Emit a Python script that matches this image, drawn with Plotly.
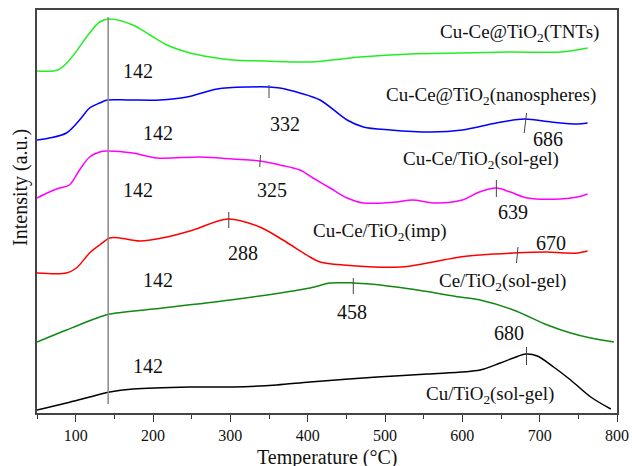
import plotly.graph_objects as go

FONT = "Liberation Serif"

# ---- data (temperature in °C, intensity in a.u., stacked with offsets) ----
tnts_T = [50, 77, 92, 118, 131, 144, 174, 196, 218, 248, 274, 303, 345, 403, 468, 533, 597, 662, 727, 762]
tnts_I = [342, 343, 353, 380, 391, 394, 388, 378, 368, 360, 356, 353, 352, 351, 356, 359, 360, 361, 361, 365]

nano_T = [50, 66, 88, 105, 118, 131, 141, 170, 209, 244, 283, 325, 350, 364, 390, 416, 451, 472, 507, 559, 600, 644, 680, 715, 749, 762]
nano_I = [273, 275, 280, 293, 305, 310, 313, 313, 313, 316, 324, 326, 326, 325, 320, 313, 293, 286, 283, 281, 283, 290, 294, 291, 289, 290]

solgel_T = [50, 66, 79, 92, 105, 118, 131, 140, 174, 205, 261, 303, 338, 364, 390, 407, 429, 451, 472, 514, 535, 566, 600, 622, 644, 662, 684, 727, 749, 762]
solgel_I = [215, 221, 225, 228, 243, 256, 261, 262, 260, 255, 256, 254, 252, 248, 243, 235, 225, 215, 210, 211, 213, 210, 213, 221, 225, 221, 215, 214, 216, 219]

imp_T = [50, 88, 101, 118, 131, 144, 157, 183, 218, 252, 297, 338, 368, 403, 416, 446, 520, 555, 597, 623, 666, 710, 731, 749, 762]
imp_I = [140, 140, 145, 160, 168, 175, 175, 172, 176, 183, 194, 186, 173, 156, 151, 148, 146, 150, 156, 158, 160, 161, 160, 160, 162]

ce_T = [50, 88, 131, 144, 200, 300, 403, 429, 459, 481, 533, 597, 623, 666, 710, 740, 766, 796]
ce_I = [71, 83, 96, 99, 104, 113, 125, 130, 130, 129, 124, 116, 113, 103, 88, 80, 75, 71]

cu_T = [50, 88, 118, 144, 174, 248, 303, 360, 403, 490, 555, 623, 649, 666, 682, 697, 718, 740, 766, 792]
cu_I = [3, 10, 16, 21, 24, 26, 26, 28, 31, 36, 39, 43, 50, 55, 59, 57, 46, 33, 16, 4]

names = ["Cu-Ce@TiO<sub>2</sub>(TNTs)", "Cu-Ce@TiO<sub>2</sub>(nanospheres)",
         "Cu-Ce/TiO<sub>2</sub>(sol-gel)", "Cu-Ce/TiO<sub>2</sub>(imp)",
         "Ce/TiO<sub>2</sub>(sol-gel)", "Cu/TiO<sub>2</sub>(sol-gel)"]
colors = ["#22ee22", "#0000ff", "#ff00ff", "#ff0000", "#118811", "#000000"]
series_T = [tnts_T, nano_T, solgel_T, imp_T, ce_T, cu_T]
series_I = [tnts_I, nano_I, solgel_I, imp_I, ce_I, cu_I]

# name label positions (T, I, anchor)
name_T = [779, 776, 727, 404, 736, 721]
name_I = [380, 317, 253, 181, 131, 18]
name_anchor = ["right", "right", "right", "left", "right", "right"]

# peak labels and their positions
peak_text = ["142", "142", "332", "686", "142", "325", "639", "142", "288", "670", "458", "142", "680"]
peak_lab_T = [180, 206, 371, 711, 180, 354, 666, 207, 316, 715, 457, 193, 660]
peak_lab_I = [342, 280, 289, 274, 223, 223, 201, 133, 160, 170, 101, 47, 80]

# tick marks on curves at the peaks
mark_T0 = [350, 683, 339, 644, 298, 672, 459, 683]
mark_T1 = [350, 680, 338, 644, 298, 670, 459, 683]
mark_I0 = [328, 300, 258, 233, 201, 166, 135, 66]
mark_I1 = [315, 280, 246, 216, 185, 150, 119, 48]

ref_T = 142
x_ticks = [100, 200, 300, 400, 500, 600, 700, 800]

fig = go.Figure()
for T, I, c in zip(series_T, series_I, colors):
    fig.add_trace(go.Scatter(x=T, y=I, mode="lines",
                             line=dict(color=c, width=1.5, shape="spline", smoothing=0.9),
                             hoverinfo="skip", showlegend=False))

fig.add_shape(type="line", x0=ref_T, x1=ref_T, y0=9, y1=396,
              line=dict(color="#8a8a8a", width=1.5))

for a0, a1, b0, b1 in zip(mark_T0, mark_T1, mark_I0, mark_I1):
    fig.add_shape(type="line", x0=a0, x1=a1, y0=b0, y1=b1,
                  line=dict(color="#444444", width=1))

for t, x, y in zip(peak_text, peak_lab_T, peak_lab_I):
    fig.add_annotation(x=x, y=y, text=t, showarrow=False,
                       font=dict(family=FONT, size=20, color="#111111"))

for n, x, y, anc in zip(names, name_T, name_I, name_anchor):
    fig.add_annotation(x=x, y=y, text=n, showarrow=False, xanchor=anc,
                       font=dict(family=FONT, size=19, color="#111111"))

fig.add_annotation(xref="paper", yref="paper", x=-0.0276, y=0.561, text="Intensity (a.u.)",
                   textangle=-90, showarrow=False, xanchor="center", yanchor="middle",
                   font=dict(family=FONT, size=20, color="#111111"))

fig.add_annotation(xref="paper", yref="paper", x=0.5, y=-0.11, text="Temperature (°C)",
                   showarrow=False, xanchor="center", yanchor="middle",
                   font=dict(family=FONT, size=20, color="#111111"))

fig.update_layout(
    width=632, height=466,
    margin=dict(l=37, r=15, t=10, b=53, autoexpand=False),
    plot_bgcolor="white", paper_bgcolor="white",
    xaxis=dict(range=[50, 800], tickvals=x_ticks, ticks="outside", ticklen=7, tickwidth=1.2,
               tickcolor="#333", showgrid=False, zeroline=False, automargin=False,
               showline=True, linecolor="#444", linewidth=1.5, mirror=True,
               tickfont=dict(family=FONT, size=16, color="#111"),
               minor=dict(dtick=50, tick0=50, ticks="outside", ticklen=4, tickcolor="#333")),
    yaxis=dict(range=[0, 403], showticklabels=False, ticks="", showgrid=False, zeroline=False,
               automargin=False,
               showline=True, linecolor="#444", linewidth=1.5, mirror=True),
)

fig.write_html("out.html", config={"displayModeBar": False},
               post_script="document.body.style.margin='0';document.body.style.overflow='hidden';")
